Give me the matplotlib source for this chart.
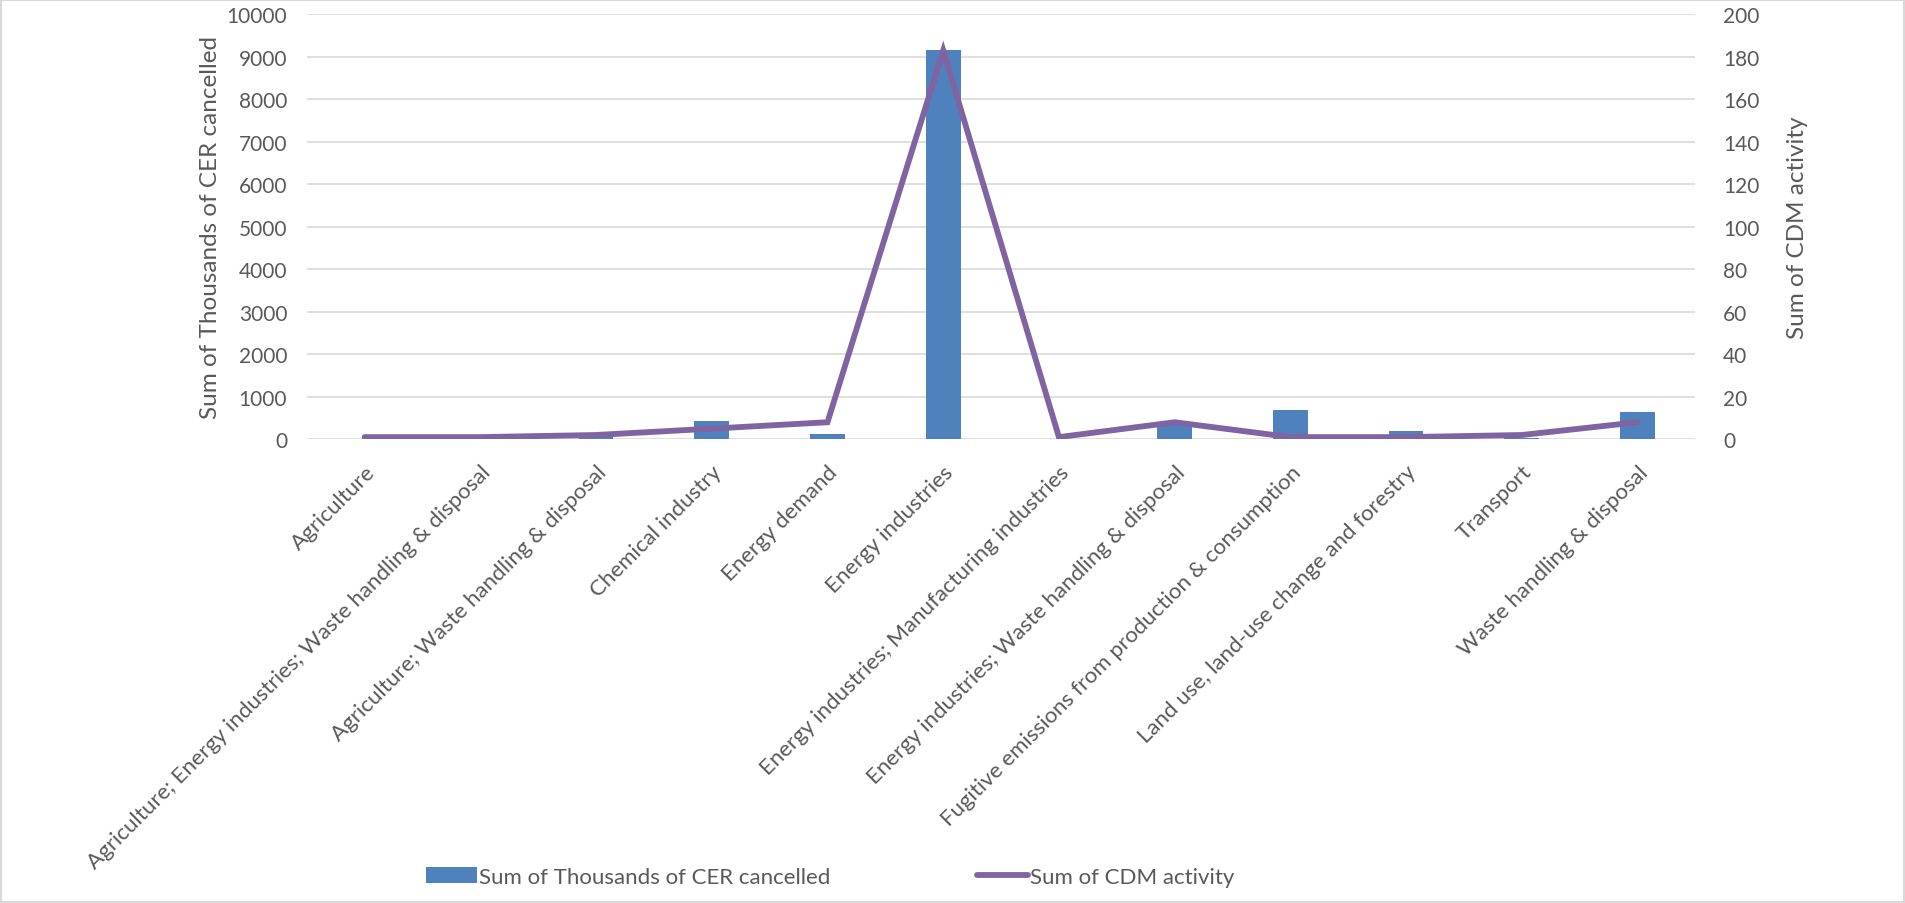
import numpy as np
import matplotlib.pyplot as plt
from matplotlib.patches import Patch, Rectangle
from matplotlib.lines import Line2D

plt.rcParams['font.family'] = ['Lato', 'DejaVu Sans']

categories = [
    'Agriculture',
    'Agriculture; Energy industries; Waste handling & disposal',
    'Agriculture; Waste handling & disposal',
    'Chemical industry',
    'Energy demand',
    'Energy industries',
    'Energy industries; Manufacturing industries',
    'Energy industries; Waste handling & disposal',
    'Fugitive emissions from production & consumption',
    'Land use, land-use change and forestry',
    'Transport',
    'Waste handling & disposal',
]
cer_cancelled = [15, 10, 50, 420, 115, 9170, 5, 360, 700, 185, 30, 645]
cdm_activity = [1, 1, 2, 5, 8, 183, 1, 8, 1, 1, 2, 8]

bar_color = '#4F81BD'
line_color = '#8064A2'
text_color = '#595959'
grid_color = '#D9D9D9'

fig = plt.figure(figsize=(19.05, 9.04), dpi=100)
ax = fig.add_axes([0.161, 0.513, 0.729, 0.470])
ax2 = ax.twinx()

x = np.arange(len(categories))
ax.bar(x, cer_cancelled, width=0.30, color=bar_color, zorder=2)
ax2.plot(x, cdm_activity, color=line_color, lw=4.2, solid_capstyle='round',
         solid_joinstyle='miter', zorder=3)

ax.set_xlim(-0.5, len(categories) - 0.5)
ax.set_ylim(0, 10000)
ax.set_yticks(np.arange(0, 10001, 1000))
ax2.set_ylim(0, 200)
ax2.set_yticks(np.arange(0, 201, 20))

ax.set_axisbelow(True)
ax.grid(axis='y', color=grid_color, lw=1.2)
for a in (ax, ax2):
    for s in a.spines.values():
        s.set_visible(False)
    a.tick_params(length=0, labelsize=15, labelcolor=text_color)
ax.tick_params(axis='y', pad=14)
ax2.tick_params(axis='y', pad=20)

ax.set_xticks(x)
ax.set_xticklabels(categories, rotation=45, ha='right', rotation_mode='anchor',
                   fontsize=16, color=text_color)
ax.tick_params(axis='x', pad=16)

ax.set_ylabel('Sum of Thousands of CER cancelled', fontsize=17.5, color=text_color, labelpad=4)
ax2.set_ylabel('Sum of CDM activity', fontsize=17.5, color=text_color, labelpad=20)

handles = [Patch(facecolor=bar_color, edgecolor='none'),
           Line2D([0], [0], color=line_color, lw=4.2, solid_capstyle='round')]
fig.legend(handles, ['Sum of Thousands of CER cancelled', 'Sum of CDM activity'],
           loc='center left', bbox_to_anchor=(0.213, 0.029), ncol=2, frameon=False,
           fontsize=16, labelcolor=text_color, handlelength=2.3, handletextpad=0.1,
           columnspacing=6.6)

# light border round the whole chart
fig.patches.append(Rectangle((0.0005, 0.001), 0.999, 0.998, transform=fig.transFigure,
                             fill=False, edgecolor=grid_color, lw=1.5))

fig.savefig('out.png', dpi=100, facecolor='white')
